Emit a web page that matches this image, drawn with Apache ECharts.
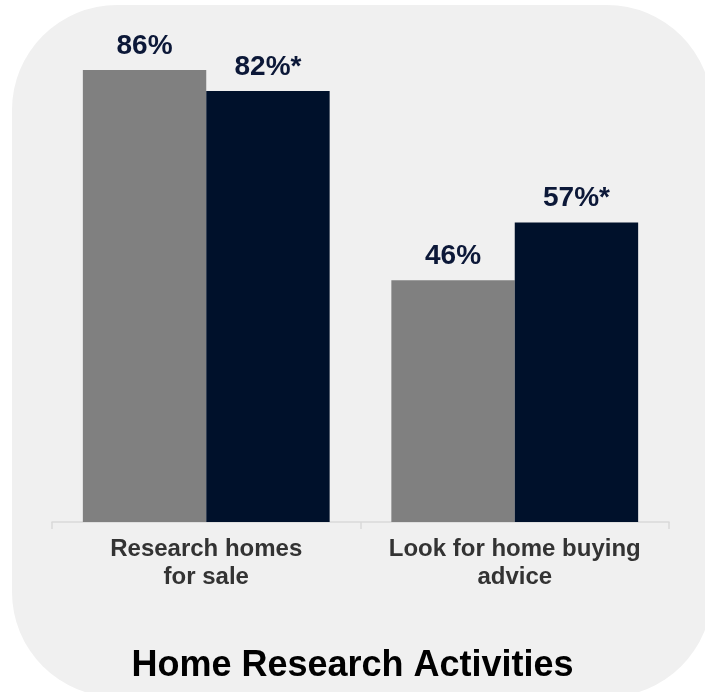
<!DOCTYPE html>
<html><head><meta charset="utf-8">
<script src="https://cdn.jsdelivr.net/npm/echarts@6/dist/echarts.min.js"></script>
<style>html,body{margin:0;padding:0;background:#fff}#c{width:705px;height:692px}</style>
</head><body><div id="c"></div>
<script>
var categories = ['Research homes\nfor sale', 'Look for home buying\nadvice'];
var seriesA = [86, 46];
var seriesB = [82, 57];
var labelsA = ['86%', '46%'];
var labelsB = ['82%*', '57%*'];
var titleText = 'Home Research Activities';

var FONT = '"Liberation Sans", Arial, sans-serif';
var chart = echarts.init(document.getElementById('c'), null, {renderer: 'canvas'});
function lbl(arr) {
  return {
    show: true, position: 'top', distance: 10,
    fontFamily: FONT, fontSize: 28, fontWeight: 'bold', color: '#0c1838',
    formatter: function (p) { return arr[p.dataIndex]; }
  };
}
chart.setOption({
  backgroundColor: '#ffffff',
  animation: false,
  graphic: [{
    type: 'rect', z: -10, silent: true,
    shape: {x: 12, y: 5, width: 700, height: 692, r: 105},
    style: {fill: '#f0f0f0'}
  }],
  title: {
    text: titleText, left: 'center', top: 643,
    textStyle: {fontFamily: FONT, fontSize: 36, fontWeight: 'bold', color: '#000000'}
  },
  grid: {left: 52, right: 36, top: 49, bottom: 170, containLabel: false},
  xAxis: {
    type: 'category', data: categories,
    axisLine: {lineStyle: {color: '#d9d9d9', width: 1.5}},
    axisTick: {show: true, length: 7, lineStyle: {color: '#d9d9d9', width: 1.5}},
    axisLabel: {interval: 0, margin: 13, fontFamily: FONT, fontSize: 24, fontWeight: 'bold', color: '#333333', lineHeight: 28, align: 'center'}
  },
  yAxis: {
    type: 'value', min: 0, max: 90, show: false,
    splitLine: {show: false}
  },
  series: [
    {type: 'bar', data: seriesA, barGap: '0%', barCategoryGap: '20%', itemStyle: {color: '#808080'}, label: lbl(labelsA)},
    {type: 'bar', data: seriesB, barGap: '0%', barCategoryGap: '20%', itemStyle: {color: '#00112b'}, label: lbl(labelsB)}
  ]
});
</script></body></html>
